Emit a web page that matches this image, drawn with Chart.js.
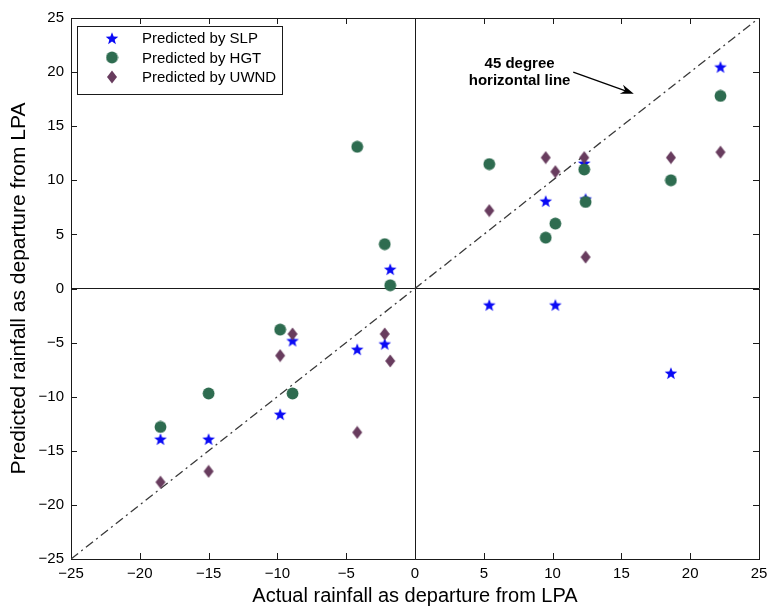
<!DOCTYPE html>
<html>
<head>
<meta charset="utf-8">
<title>Predicted vs actual rainfall</title>
<script src="https://cdn.jsdelivr.net/npm/chart.js@4.4.1/dist/chart.umd.min.js"></script>
<style>
  html, body { margin: 0; padding: 0; background: #fff; }
  #wrap { width: 768px; height: 609px; }
</style>
</head>
<body>
<div id="wrap"><canvas id="rainChart" width="768" height="609"></canvas></div>
<script>
// Actual rainfall departure (x) and the three model predictions (y)
const actual = [-18.5, -15.0, -9.8, -8.9, -4.2, -2.2, -1.8, 5.4, 9.5, 10.2, 12.3, 12.4, 18.6, 22.2];
const predSLP = [-13.9, -13.9, -11.6, -4.8, -5.6, -5.1, 1.8, -1.5, 8.1, -1.5, 11.6, 8.3, -7.8, 20.5];
const predHGT = [-12.8, -9.7, -3.8, -9.7, 13.1, 4.1, 0.3, 11.5, 4.7, 6.0, 11.0, 8.0, 10.0, 17.8];
const predUWND = [-17.9, -16.9, -6.2, -4.2, -13.3, -4.2, -6.7, 7.2, 12.1, 10.8, 12.1, 2.9, 12.1, 12.6];
const seriesNames = ['Predicted by SLP', 'Predicted by HGT', 'Predicted by UWND'];
const tickValues = [-25, -20, -15, -10, -5, 0, 5, 10, 15, 20, 25];
const diagonal = [-25, 25];

const FONT = 'Liberation Sans, Arial, Helvetica, sans-serif';

function pairs(xs, ys) {
    return xs.map((x, i) => ({ x: x, y: ys[i] }));
}

// Marker images (filled star / circle / tall diamond, MATLAB style)
function makeStar(color) {
    const c = document.createElement('canvas');
    c.width = 14; c.height = 14;
    const g = c.getContext('2d');
    g.fillStyle = color;
    g.beginPath();
    for (let i = 0; i < 10; i++) {
        const r = i % 2 === 0 ? 6.6 : 2.8;
        const a = -Math.PI / 2 + i * Math.PI / 5;
        const px = 7 + r * Math.cos(a), py = 7.8 + r * Math.sin(a);
        if (i === 0) g.moveTo(px, py); else g.lineTo(px, py);
    }
    g.closePath();
    g.fill();
    return c;
}

function makeCircle(color) {
    const c = document.createElement('canvas');
    c.width = 13; c.height = 13;
    const g = c.getContext('2d');
    g.fillStyle = color;
    g.beginPath();
    g.arc(6.5, 6.5, 5.9, 0, Math.PI * 2);
    g.fill();
    return c;
}

function makeDiamond(color) {
    const c = document.createElement('canvas');
    c.width = 12; c.height = 14;
    const g = c.getContext('2d');
    g.fillStyle = color;
    g.beginPath();
    g.moveTo(6, 0.5);
    g.lineTo(11, 7);
    g.lineTo(6, 13.5);
    g.lineTo(1, 7);
    g.closePath();
    g.fill();
    return c;
}

const colSLP = '#0a0af5';
const colHGT = '#2e6c50';
const colUWND = '#683c5e';
const markers = [makeStar(colSLP), makeCircle(colHGT), makeDiamond(colUWND)];

function fmtTick(v) {
    return v < 0 ? '\u2212' + Math.abs(v) : String(v);
}

function edgeColor(ctx) {
    const v = ctx.tick.value;
    return (v === -25 || v === 0 || v === 25) ? '#1a1a1a' : 'rgba(0,0,0,0)';
}

// Inward tick marks on all four sides
const innerTicks = {
    id: 'innerTicks',
    afterDatasetsDraw(chart) {
        const { ctx, chartArea: a, scales } = chart;
        ctx.save();
        ctx.strokeStyle = '#1a1a1a';
        ctx.lineWidth = 1;
        ctx.beginPath();
        tickValues.forEach(v => {
            if (v === -25 || v === 25) return;
            const px = Math.round(scales.x.getPixelForValue(v)) + 0.5;
            ctx.moveTo(px, a.top); ctx.lineTo(px, a.top + 6);
            ctx.moveTo(px, a.bottom); ctx.lineTo(px, a.bottom - 6);
            const py = Math.round(scales.y.getPixelForValue(v)) + 0.5;
            ctx.moveTo(a.left, py); ctx.lineTo(a.left + 6, py);
            ctx.moveTo(a.right, py); ctx.lineTo(a.right - 6, py);
        });
        ctx.stroke();
        ctx.restore();
    }
};

// Boxed legend in the upper-left corner
const boxLegend = {
    id: 'boxLegend',
    afterDraw(chart) {
        const { ctx, chartArea: a } = chart;
        const bx = a.left + 6, by = a.top + 8, bw = 205, bh = 68;
        ctx.save();
        ctx.fillStyle = '#fff';
        ctx.fillRect(bx, by, bw, bh);
        ctx.strokeStyle = '#1a1a1a';
        ctx.lineWidth = 1;
        ctx.strokeRect(bx + 0.5, by + 0.5, bw, bh);
        ctx.font = '15px ' + FONT;
        ctx.fillStyle = '#000';
        ctx.textBaseline = 'middle';
        seriesNames.forEach((name, i) => {
            const ry = by + 12 + i * 19.5;
            const m = markers[i];
            ctx.drawImage(m, bx + 35 - m.width / 2, ry - m.height / 2);
            ctx.fillText(name, bx + 65, ry + 1);
        });
        ctx.restore();
    }
};

// "45 degree horizontal line" note with arrow
const diagNote = {
    id: 'diagNote',
    afterDraw(chart) {
        const { ctx, scales: { x, y } } = chart;
        ctx.save();
        ctx.fillStyle = '#000';
        ctx.font = 'bold 15px ' + FONT;
        ctx.textAlign = 'center';
        ctx.textBaseline = 'middle';
        ctx.fillText('45 degree', x.getPixelForValue(7.6), y.getPixelForValue(20.8));
        ctx.fillText('horizontal line', x.getPixelForValue(7.6), y.getPixelForValue(19.2));
        const x0 = x.getPixelForValue(11.5), y0 = y.getPixelForValue(20.0);
        const x1 = x.getPixelForValue(15.9), y1 = y.getPixelForValue(18.0);
        const ang = Math.atan2(y1 - y0, x1 - x0);
        ctx.strokeStyle = '#000';
        ctx.lineWidth = 1.3;
        ctx.beginPath();
        ctx.moveTo(x0, y0);
        ctx.lineTo(x1 - 8 * Math.cos(ang), y1 - 8 * Math.sin(ang));
        ctx.stroke();
        ctx.beginPath();
        ctx.moveTo(x1, y1);
        ctx.lineTo(x1 - 14 * Math.cos(ang - 0.35), y1 - 14 * Math.sin(ang - 0.35));
        ctx.lineTo(x1 - 9 * Math.cos(ang), y1 - 9 * Math.sin(ang));
        ctx.lineTo(x1 - 14 * Math.cos(ang + 0.35), y1 - 14 * Math.sin(ang + 0.35));
        ctx.closePath();
        ctx.fill();
        ctx.restore();
    }
};

new Chart(document.getElementById('rainChart'), {
    type: 'scatter',
    data: {
        datasets: [{
            label: 'diagonal',
            type: 'line',
            data: pairs(diagonal, diagonal),
            borderColor: '#3a3a3a',
            borderWidth: 1.3,
            borderDash: [9, 4, 2, 4],
            pointRadius: 0,
            fill: false,
            order: 4
        }, {
            label: seriesNames[0],
            data: pairs(actual, predSLP),
            pointStyle: markers[0],
            order: 3
        }, {
            label: seriesNames[1],
            data: pairs(actual, predHGT),
            pointStyle: markers[1],
            order: 2
        }, {
            label: seriesNames[2],
            data: pairs(actual, predUWND),
            pointStyle: markers[2],
            order: 1
        }]
    },
    options: {
        responsive: false,
        animation: false,
        layout: { padding: { top: 18, right: 9, left: 0, bottom: 0 } },
        plugins: {
            legend: { display: false },
            tooltip: { enabled: false }
        },
        scales: {
            x: {
                type: 'linear',
                min: -25,
                max: 25,
                afterBuildTicks: s => { s.ticks = tickValues.map(v => ({ value: v })); },
                afterFit: s => { s.height = 50; s.paddingRight = 0; s.paddingLeft = 0; },
                grid: { color: edgeColor, drawTicks: false, lineWidth: 1 },
                border: { display: true, color: '#1a1a1a' },
                ticks: {
                    padding: 6,
                    color: '#000',
                    font: { family: FONT, size: 15 },
                    maxRotation: 0,
                    callback: v => fmtTick(v)
                },
                title: {
                    display: true,
                    text: 'Actual rainfall as departure from LPA',
                    color: '#000',
                    font: { family: FONT, size: 20 },
                    padding: { top: 0, bottom: 1 }
                }
            },
            y: {
                type: 'linear',
                min: -25,
                max: 25,
                afterBuildTicks: s => { s.ticks = tickValues.map(v => ({ value: v })); },
                afterFit: s => { s.width = 71; s.paddingTop = 0; s.paddingBottom = 0; },
                grid: { color: edgeColor, drawTicks: false, lineWidth: 1 },
                border: { display: true, color: '#1a1a1a' },
                ticks: {
                    padding: 7,
                    color: '#000',
                    font: { family: FONT, size: 15 },
                    callback: v => fmtTick(v)
                },
                title: {
                    display: true,
                    text: 'Predicted rainfall as departure from LPA',
                    color: '#000',
                    font: { family: FONT, size: 21 },
                    padding: { top: 7, bottom: 0 }
                }
            }
        }
    },
    plugins: [innerTicks, boxLegend, diagNote]
});
</script>
</body>
</html>
